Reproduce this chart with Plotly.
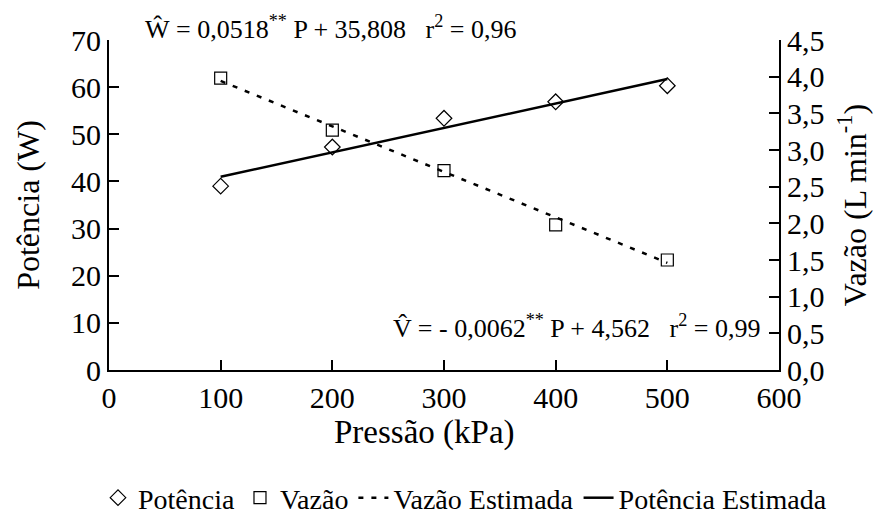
import plotly.graph_objects as go

# Pressure levels (kPa) and measured responses
pressao = [100, 200, 300, 400, 500]
potencia = [39.0, 47.3, 53.4, 56.9, 60.3]
vazao = [3.98, 3.27, 2.72, 1.98, 1.50]

# Regression coefficients
w_slope, w_icpt = 0.0518, 35.808
v_slope, v_icpt = -0.0062, 4.562

x_ticks = [0, 100, 200, 300, 400, 500, 600]

pot_est = [w_slope * p + w_icpt for p in pressao]
vaz_est = [v_slope * p + v_icpt for p in pressao]

FONT = "Times New Roman, Liberation Serif, serif"

# plot area in page pixels
L, R, T, B = 109, 779, 40, 370
PW, PH = R - L, B - T


def px(x):
    return (x - L) / PW


def py(y):
    return (B - y) / PH


fig = go.Figure()

fig.add_trace(go.Scatter(
    x=pressao, y=potencia, mode="markers", name="Potência",
    marker=dict(symbol="diamond-open", size=12, color="black", line=dict(width=1.2)),
))
fig.add_trace(go.Scatter(
    x=pressao, y=vazao, mode="markers", name="Vazão", yaxis="y2",
    marker=dict(symbol="square-open", size=12, color="black", line=dict(width=1.2)),
))
fig.add_trace(go.Scatter(
    x=[pressao[0], pressao[-1]], y=[vaz_est[0], vaz_est[-1]], mode="lines",
    name="Vazão Estimada", yaxis="y2",
    line=dict(color="black", width=2.5, dash="5px,8px"),
))
fig.add_trace(go.Scatter(
    x=[pressao[0], pressao[-1]], y=[pot_est[0], pot_est[-1]], mode="lines",
    name="Potência Estimada",
    line=dict(color="black", width=2.5),
))

axis_common = dict(
    showline=True, linecolor="black", linewidth=2,
    ticks="inside", ticklen=10, tickwidth=2, tickcolor="black",
    showgrid=False, zeroline=False,
    tickfont=dict(family=FONT, size=30, color="black"),
)

fig.update_layout(
    width=886, height=519,
    margin=dict(l=L, r=886 - R, t=T, b=519 - B, autoexpand=False),
    paper_bgcolor="white", plot_bgcolor="white",
    separators=",.",
    font=dict(family=FONT, size=30, color="black"),
    xaxis=dict(range=[0, 600], tickvals=x_ticks, **axis_common),
    yaxis=dict(
        range=[0, 70], dtick=10, **axis_common,
        title=dict(text="Potência (W)", font=dict(family=FONT, size=32), standoff=22),
    ),
    yaxis2=dict(
        range=[0, 4.5], dtick=0.5, tickformat=".1f", overlaying="y", side="right",
        **axis_common,
        title=dict(text="Vazão (L min<sup>-1</sup>)", font=dict(family=FONT, size=32), standoff=20),
    ),
    legend=dict(
        orientation="h",
        x=px(98), xanchor="left",
        y=py(523), yanchor="bottom",
        font=dict(family=FONT, size=28, color="black"),
        itemwidth=30, tracegroupgap=0,
    ),
    showlegend=True,
)

# x-axis title
fig.add_annotation(
    xref="paper", yref="paper", x=px(424), y=py(432),
    text="Pressão (kPa)", showarrow=False, xanchor="center", yanchor="middle",
    font=dict(family=FONT, size=33, color="black"),
)

# regression equations
fig.add_annotation(
    xref="paper", yref="paper", x=px(330), y=py(27),
    text="Ŵ = 0,0518<sup>**</sup> P + 35,808\u00a0\u00a0\u00a0r<sup>2</sup> = 0,96",
    showarrow=False, xanchor="center", yanchor="middle",
    font=dict(family=FONT, size=26, color="black"),
)
fig.add_annotation(
    xref="paper", yref="paper", x=px(762), y=py(326),
    text="V\u0302 = - 0,0062<sup>**</sup> P + 4,562\u00a0\u00a0\u00a0r<sup>2</sup> = 0,99",
    showarrow=False, xanchor="right", yanchor="middle",
    font=dict(family=FONT, size=26, color="black"),
)

fig.write_html("out.html")
